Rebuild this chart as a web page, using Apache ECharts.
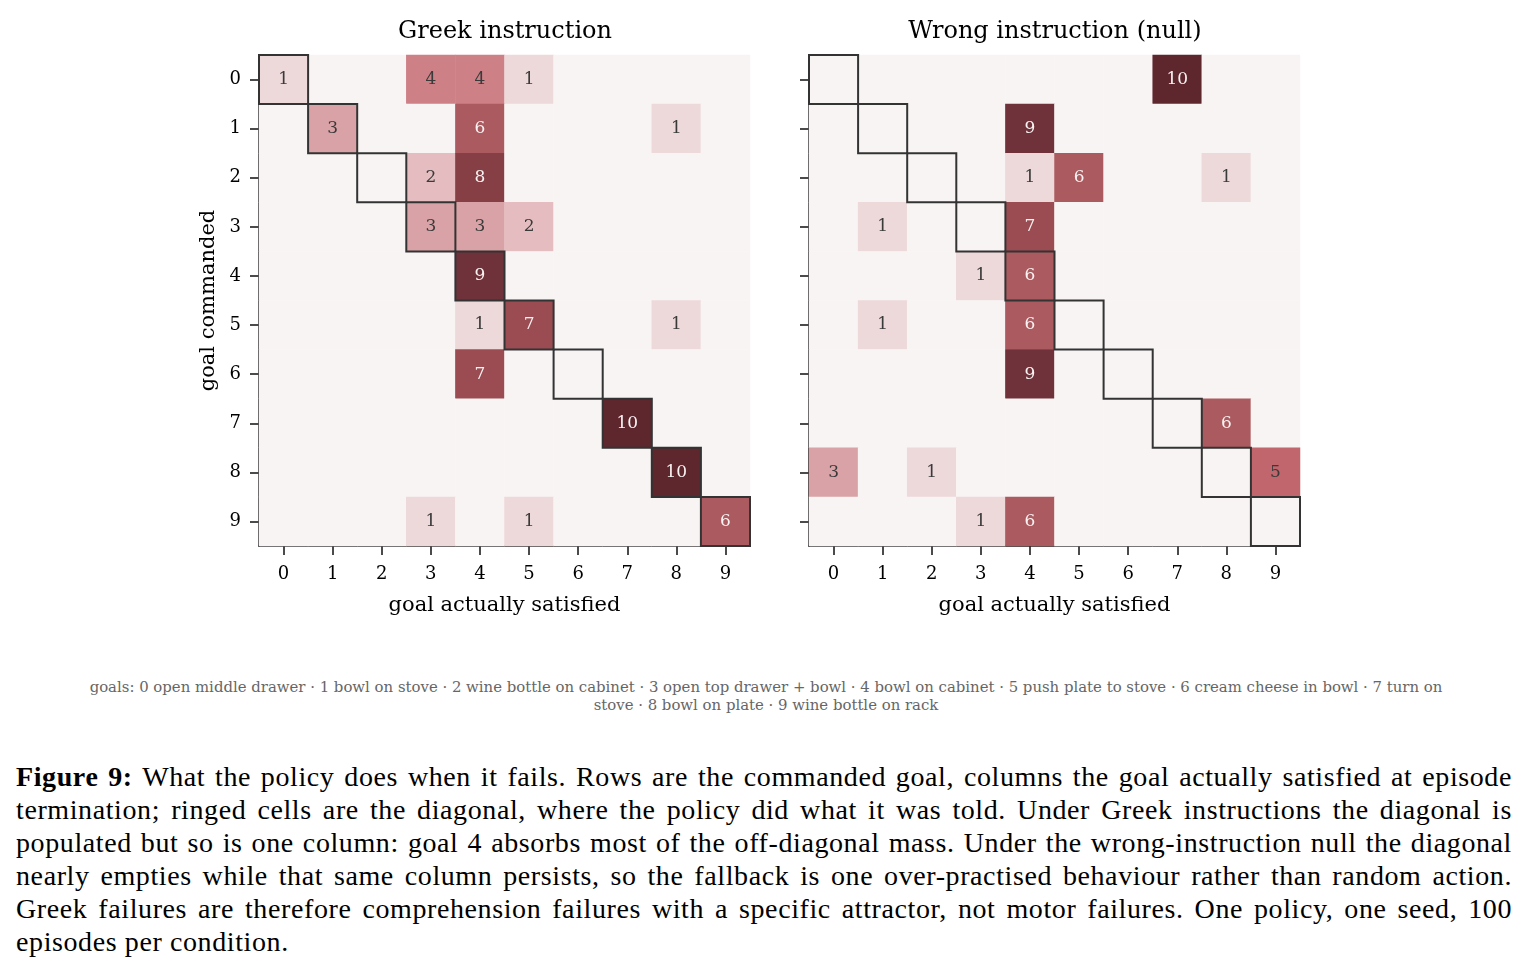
<!DOCTYPE html>
<html><head><meta charset="utf-8">
<script src="https://cdn.jsdelivr.net/npm/echarts@6/dist/echarts.min.js"></script>
<style>
html,body{margin:0;padding:0;background:#fff;width:1532px;height:971px;overflow:hidden;}
#chart{position:absolute;left:0;top:0;width:1532px;height:650px;}
#goals{position:absolute;left:0;top:678px;width:1532px;text-align:center;font-family:"DejaVu Serif";font-size:14.9px;color:#666;line-height:18px;white-space:nowrap;}
#caption{position:absolute;left:16px;top:760px;width:1496px;font-family:"Liberation Serif";font-size:28px;letter-spacing:0.6px;color:#000;}
.ln{height:33px;line-height:33px;white-space:nowrap;}
</style></head>
<body>
<div id="chart"></div>
<div id="goals">goals: 0 open middle drawer · 1 bowl on stove · 2 wine bottle on cabinet · 3 open top drawer + bowl · 4 bowl on cabinet · 5 push plate to stove · 6 cream cheese in bowl · 7 turn on<br>stove · 8 bowl on plate · 9 wine bottle on rack</div>
<div id="caption"></div>
<script>
const goals = ['0','1','2','3','4','5','6','7','8','9'];
const panelTitles = ['Greek instruction', 'Wrong instruction (null)'];
const xAxisName = 'goal actually satisfied';
const yAxisName = 'goal commanded';
// rows = goal commanded, columns = goal actually satisfied
const greekRows = [
  [1,0,0,4,4,1,0,0,0,0],
  [0,3,0,0,6,0,0,0,1,0],
  [0,0,0,2,8,0,0,0,0,0],
  [0,0,0,3,3,2,0,0,0,0],
  [0,0,0,0,9,0,0,0,0,0],
  [0,0,0,0,1,7,0,0,1,0],
  [0,0,0,0,7,0,0,0,0,0],
  [0,0,0,0,0,0,0,10,0,0],
  [0,0,0,0,0,0,0,0,10,0],
  [0,0,0,1,0,1,0,0,0,6]
];
const nullRows = [
  [0,0,0,0,0,0,0,10,0,0],
  [0,0,0,0,9,0,0,0,0,0],
  [0,0,0,0,1,6,0,0,1,0],
  [0,1,0,0,7,0,0,0,0,0],
  [0,0,0,1,6,0,0,0,0,0],
  [0,1,0,0,6,0,0,0,0,0],
  [0,0,0,0,9,0,0,0,0,0],
  [0,0,0,0,0,0,0,0,6,0],
  [3,0,1,0,0,0,0,0,0,5],
  [0,0,0,1,6,0,0,0,0,0]
];
const scaleColors = ['#f9f4f4','#edd8da','#e5bdc0','#d9a2a6','#cd8187','#c0666c','#ab5a5f','#9a4c52','#853f45','#70323a','#5e272e'];
const captionLines = [
  ['Figure 9:', ' What the policy does when it fails. Rows are the commanded goal, columns the goal actually satisfied at episode'],
  ['', 'termination; ringed cells are the diagonal, where the policy did what it was told. Under Greek instructions the diagonal is'],
  ['', 'populated but so is one column: goal 4 absorbs most of the off-diagonal mass. Under the wrong-instruction null the diagonal'],
  ['', 'nearly empties while that same column persists, so the fallback is one over-practised behaviour rather than random action.'],
  ['', 'Greek failures are therefore comprehension failures with a specific attractor, not motor failures. One policy, one seed, 100'],
  ['', 'episodes per condition.']
];

const FONT = 'DejaVu Serif';
function toCells(rows){
  const out = [];
  rows.forEach((r, yi) => r.forEach((v, xi) => out.push([xi, yi, v])));
  return out;
}
const diag = goals.map((g, i) => [i, i]);

const grids = [
  {left: 259, top: 55, width: 491, height: 491},
  {left: 809, top: 55, width: 491, height: 491}
];
function xAx(i){
  return {
    type: 'category', gridIndex: i, data: goals,
    name: xAxisName, nameLocation: 'middle', nameGap: 49,
    nameTextStyle: {fontFamily: FONT, fontSize: 21, color: '#000'},
    axisLine: {show: true, lineStyle: {color: '#111', width: 1.6}},
    axisTick: {show: true, alignWithLabel: true, length: 9, lineStyle: {color: '#111', width: 1.5}},
    axisLabel: {fontFamily: FONT, fontSize: 18, color: '#000', margin: 19},
    splitLine: {show: false}
  };
}
function yAx(i){
  return {
    type: 'category', gridIndex: i, data: goals, inverse: true,
    name: i === 0 ? yAxisName : '', nameLocation: 'middle', nameGap: 40,
    nameTextStyle: {fontFamily: FONT, fontSize: 21, color: '#000'},
    axisLine: {show: true, lineStyle: {color: '#111', width: 1.6}},
    axisTick: {show: true, alignWithLabel: true, length: 9, lineStyle: {color: '#111', width: 1.5}},
    axisLabel: {show: i === 0, fontFamily: FONT, fontSize: 18, color: '#000', margin: 18},
    splitLine: {show: false}
  };
}
function heat(i, rows){
  return {
    type: 'heatmap', xAxisIndex: i, yAxisIndex: i, data: toCells(rows),
    itemStyle: {borderWidth: 0},
    emphasis: {disabled: true},
    label: {
      show: true,
      formatter: p => { const v = p.value[2]; return v === 0 ? '' : (v > 5 ? '{w|' + v + '}' : '{d|' + v + '}'); },
      rich: {
        w: {color: '#f8f2f2', fontFamily: FONT, fontSize: 17},
        d: {color: '#3a3a3a', fontFamily: FONT, fontSize: 17}
      }
    },
    z: 2
  };
}
function ring(i){
  return {
    type: 'custom', xAxisIndex: i, yAxisIndex: i, data: diag, z: 5, silent: true,
    renderItem: function(params, api){
      const c = api.coord([api.value(0), api.value(1)]);
      const s = api.size([1, 1]);
      return {type: 'rect', shape: {x: c[0] - s[0] / 2, y: c[1] - s[1] / 2, width: s[0], height: s[1]},
        style: {fill: 'none', stroke: '#333', lineWidth: 2}};
    }
  };
}
const chart = echarts.init(document.getElementById('chart'), null, {renderer: 'canvas'});
chart.setOption({
  animation: false,
  backgroundColor: '#ffffff',
  grid: grids,
  xAxis: [xAx(0), xAx(1)],
  yAxis: [yAx(0), yAx(1)],
  visualMap: {type: 'continuous', show: false, min: 0, max: 10, dimension: 2, seriesIndex: [0, 2], inRange: {color: scaleColors}},
  graphic: [
    {type: 'text', x: 505, y: 32, style: {text: panelTitles[0], fontFamily: FONT, fontSize: 24, fill: '#000', textAlign: 'center', textVerticalAlign: 'middle'}},
    {type: 'text', x: 1055, y: 32, style: {text: panelTitles[1], fontFamily: FONT, fontSize: 24, fill: '#000', textAlign: 'center', textVerticalAlign: 'middle'}}
  ],
  series: [heat(0, greekRows), ring(0), heat(1, nullRows), ring(1)]
});

// caption, justified line by line (word spacing, as in the typeset original)
const cap = document.getElementById('caption');
const W = 1496;
captionLines.forEach((ln) => {
  const d = document.createElement('div');
  d.className = 'ln';
  if (ln[0]) { const b = document.createElement('b'); b.textContent = ln[0]; d.appendChild(b); }
  d.appendChild(document.createTextNode(ln[1]));
  cap.appendChild(d);
});
const divs = cap.querySelectorAll('.ln');
divs.forEach((d, idx) => {
  if (idx === divs.length - 1) return;
  const span = document.createElement('span');
  while (d.firstChild) span.appendChild(d.firstChild);
  d.appendChild(span);
  const w = span.getBoundingClientRect().width;
  const nsp = (d.textContent.match(/ /g) || []).length;
  d.style.wordSpacing = ((W - w) / nsp) + 'px';
});
</script>
</body></html>
